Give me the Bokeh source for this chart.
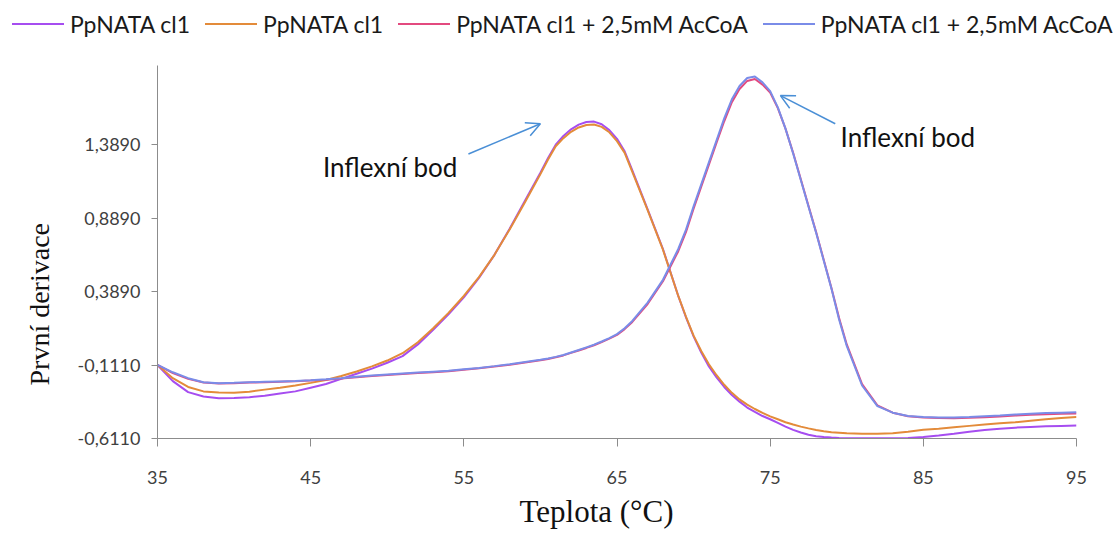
from bokeh.plotting import figure
from bokeh.layouts import column
from bokeh.models import (FixedTicker, Arrow, OpenHead, Label, Range1d, Title, Div)
from bokeh.embed import file_html
from bokeh.resources import INLINE

# ---------------- data ----------------
teplota = [35, 36, 37, 38, 39, 40, 41, 42, 43, 44, 45, 46, 47, 48, 49, 50,
           51, 52, 53, 54, 55, 56, 57, 58, 59, 60,
           60.5, 61, 61.5, 62, 62.5, 63, 63.5, 64, 64.5, 65, 65.5, 66,
           67, 68, 69, 69.5, 70, 70.5, 71, 71.5, 72, 72.5, 73, 73.5, 74,
           74.5, 75, 75.5, 76, 76.5, 77, 77.5, 78, 78.5, 79, 79.5, 80,
           81, 82, 83, 84, 85, 86, 87, 88, 89, 90, 91, 92, 93, 94, 95]

cl1_a = [-0.11, -0.22, -0.295, -0.325, -0.337, -0.335, -0.33, -0.32, -0.305, -0.29,
         -0.265, -0.24, -0.205, -0.17, -0.135, -0.095, -0.05, 0.03, 0.13, 0.235,
         0.35, 0.485, 0.64, 0.82, 1.01, 1.2,
         1.3, 1.39, 1.45, 1.495, 1.527, 1.545, 1.548, 1.53, 1.49, 1.43, 1.345, 1.215,
         0.95, 0.68, 0.36, 0.215, 0.085, -0.025, -0.12, -0.195, -0.26, -0.315, -0.36,
         -0.4, -0.43, -0.458, -0.48, -0.505, -0.53, -0.552, -0.57, -0.585, -0.595,
         -0.601, -0.605, -0.608, -0.61,
         -0.61, -0.61, -0.61, -0.608, -0.6, -0.59, -0.578, -0.565, -0.553, -0.545,
         -0.537, -0.532, -0.528, -0.525, -0.522]

cl1_b = [-0.11, -0.2, -0.26, -0.29, -0.298, -0.3, -0.292, -0.278, -0.265, -0.25,
         -0.232, -0.212, -0.185, -0.155, -0.12, -0.08, -0.03, 0.045, 0.14, 0.245,
         0.36, 0.49, 0.64, 0.815, 1.0, 1.19,
         1.29, 1.38, 1.435, 1.478, 1.508, 1.525, 1.528, 1.512, 1.475, 1.415, 1.335, 1.205,
         0.945, 0.675, 0.36, 0.22, 0.09, -0.015, -0.105, -0.18, -0.245, -0.3, -0.345,
         -0.38, -0.41, -0.437, -0.46, -0.48, -0.5, -0.516, -0.53, -0.542, -0.553,
         -0.561, -0.568, -0.572, -0.576,
         -0.578, -0.578, -0.575, -0.565, -0.552, -0.545, -0.535, -0.525, -0.515, -0.507,
         -0.5, -0.49, -0.48, -0.472, -0.465]

acoa_a = [-0.11, -0.165, -0.205, -0.23, -0.236, -0.234, -0.23, -0.227, -0.224, -0.221,
          -0.216, -0.21, -0.202, -0.193, -0.185, -0.178, -0.171, -0.165, -0.159, -0.153,
          -0.143, -0.133, -0.121, -0.108, -0.093, -0.078,
          -0.069, -0.058, -0.045, -0.028, -0.011, 0.006, 0.024, 0.046, 0.069, 0.095, 0.134, 0.183,
          0.305, 0.46, 0.665, 0.795, 0.955, 1.105, 1.255, 1.405, 1.55, 1.68, 1.77,
          1.825, 1.838, 1.8, 1.745, 1.64, 1.5, 1.335, 1.155, 0.975, 0.795,
          0.605, 0.415, 0.21, 0.03,
          -0.24, -0.385, -0.435, -0.46, -0.468, -0.472, -0.473, -0.47, -0.466, -0.461,
          -0.455, -0.45, -0.446, -0.443, -0.44]

acoa_b = [-0.11, -0.16, -0.2, -0.228, -0.235, -0.232, -0.228, -0.225, -0.222, -0.22,
          -0.215, -0.208, -0.2, -0.19, -0.182, -0.175, -0.168, -0.162, -0.156, -0.15,
          -0.14, -0.13, -0.118, -0.105, -0.09, -0.075,
          -0.066, -0.055, -0.042, -0.025, -0.008, 0.01, 0.028, 0.05, 0.073, 0.1, 0.14, 0.19,
          0.315, 0.47, 0.68, 0.81, 0.97, 1.12, 1.27, 1.42, 1.57, 1.7, 1.79,
          1.845, 1.855, 1.815, 1.755, 1.645, 1.5, 1.33, 1.15, 0.97, 0.79,
          0.6, 0.41, 0.2, 0.02,
          -0.25, -0.39, -0.435, -0.458, -0.465, -0.468, -0.468, -0.465, -0.46, -0.455,
          -0.448, -0.442, -0.438, -0.435, -0.432]

series_names = ["PpNATA cl1", "PpNATA cl1",
                "PpNATA cl1 + 2,5mM AcCoA", "PpNATA cl1 + 2,5mM AcCoA"]
series_colors = ["#A64DF0", "#E38B3A", "#E34A7F", "#7A8CE8"]

y_ticks = [-0.611, -0.111, 0.389, 0.889, 1.389]
y_tick_labels = ["-0,6110", "-0,1110", "0,3890", "0,8890", "1,3890"]
x_ticks = [35, 45, 55, 65, 75, 85, 95]

x_title = "Teplota (°C)"
y_title = "První derivace"

# annotation anchors (data units)
note_text = "Inflexní bod"
note1_xy = (45.8, 1.238)
arrow1 = (55.3, 1.327, 60.0, 1.533)
note2_xy = (79.6, 1.444)
arrow2 = (79.25, 1.533, 75.67, 1.725)

# ---------------- figure ----------------
SANS = "Lato"
SERIF = "Liberation Serif"
W = 1112
LEG_H = 40

p = figure(width=W, height=493,
           x_range=Range1d(35, 95), y_range=Range1d(-0.611, 1.93),
           output_backend="svg", toolbar_location=None,
           min_border_left=157, min_border_right=36,
           min_border_top=25, min_border_bottom=95)
p.outline_line_color = None
p.xgrid.visible = False
p.ygrid.visible = False

for ys, c, n in zip([cl1_a, cl1_b, acoa_a, acoa_b], series_colors, series_names):
    p.line(teplota, ys, line_color=c, line_width=2, name=n)

# axes
ax_col = "#8c8c8c"
p.yaxis.ticker = FixedTicker(ticks=y_ticks)
p.yaxis.major_label_overrides = {t: l for t, l in zip(y_ticks, y_tick_labels)}
p.xaxis.ticker = FixedTicker(ticks=x_ticks)
for ax in (p.xaxis[0], p.yaxis[0]):
    ax.axis_line_color = ax_col
    ax.major_tick_line_color = ax_col
    ax.minor_tick_line_color = None
    ax.major_tick_in = 0
    ax.major_tick_out = 6
    ax.major_label_text_font = SANS
    ax.major_label_text_font_size = "18px"
    ax.major_label_text_color = "#404040"
p.yaxis.major_label_standoff = 11
p.xaxis.major_label_standoff = 24
p.xaxis.major_tick_out = 8

# axis titles
yt = Title(text=y_title, align="left", offset=53, text_font=SERIF,
           text_font_size="28px", text_font_style="normal", text_color="#111111")
xt = Title(text=x_title, align="left", offset=362, text_font=SERIF,
           text_font_size="31px", text_font_style="normal", text_color="#111111")
try:
    yt.standoff = 40
    xt.standoff = 10
except Exception:
    pass
p.add_layout(yt, "left")
p.add_layout(xt, "below")

# annotations
for (tx, ty) in (note1_xy, note2_xy):
    p.add_layout(Label(x=tx, y=ty, text=note_text, text_align="left",
                       text_baseline="middle", text_font=SANS,
                       text_font_size="26px", text_color="#111111"))
for (x0, y0, x1, y1) in (arrow1, arrow2):
    p.add_layout(Arrow(x_start=x0, y_start=y0, x_end=x1, y_end=y1,
                       line_color="#4A8FD6", line_width=1.5,
                       end=OpenHead(size=14, line_color="#4A8FD6", line_width=1.5)))

# legend strip above the chart
parts = []
for n, c in zip(series_names, series_colors):
    parts.append(
        '<span style="display:inline-block;width:52px;height:0;'
        'border-top:2px solid %s;margin-right:6px;"></span>'
        '<span style="margin-right:15px;">%s</span>' % (c, n))
legend_html = ('<div style="display:flex;align-items:center;white-space:nowrap;'
               'font-family:Lato;font-size:23px;color:#1a1a1a;height:40px;'
               'margin-top:4px;padding-left:12px;box-sizing:border-box;">'
               + "".join(parts) + '</div>')
legend_div = Div(text=legend_html, width=W, height=LEG_H, margin=(0, 0, 0, 0))

layout = column(legend_div, p, spacing=0)
open("out.html", "w").write(file_html(layout, INLINE))
